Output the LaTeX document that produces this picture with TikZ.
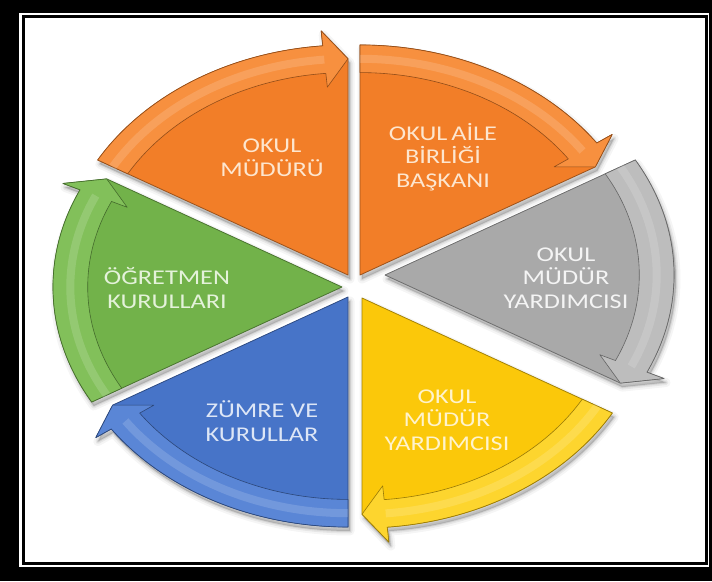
\documentclass[tikz,border=0pt]{standalone}
\usepackage{fontspec}
\setmainfont{Carlito}[FakeStretch=1.25]
\definecolor{orB}{HTML}{F27E28}
\definecolor{orL}{HTML}{F7903F}
\definecolor{orT}{HTML}{FDE6CF}
\definecolor{grB}{HTML}{A9A9A9}
\definecolor{grL}{HTML}{BDBDBD}
\definecolor{grT}{HTML}{F4F4F4}
\definecolor{yeB}{HTML}{FBC80A}
\definecolor{yeL}{HTML}{FDD52E}
\definecolor{yeT}{HTML}{FFF3CC}
\definecolor{blB}{HTML}{4774C8}
\definecolor{blL}{HTML}{5A86D6}
\definecolor{blT}{HTML}{DDE6F6}
\definecolor{gnB}{HTML}{72B24A}
\definecolor{gnL}{HTML}{82C05A}
\definecolor{gnT}{HTML}{E4F2DA}
\newcommand\segshadow[2]{%
  \pgfmathsetmacro\sA{#2+60}%
  \pgfmathsetmacro\sB{#2+5}%
  \begin{scope}[shift={(#1)}]
    \foreach \w/\o in {9/0.04,5/0.06,2/0.08}{%
      \filldraw[black,opacity=\o,line width=\w pt,line join=round,shift={(2,-4)}]
        (0,0) -- (\sA:289 and 230)
        arc[start angle=\sA,end angle=\sB,x radius=289,y radius=230]
        -- (\sB:307.8 and 245) -- (#2:271.7 and 216.2) -- cycle;}
  \end{scope}}
\newcommand\segment[4]{%
  \pgfmathsetmacro\sA{#2+60}%
  \pgfmathsetmacro\sB{#2+5}%
  \begin{scope}[shift={(#1)}]
    \filldraw[fill=#3,draw=#3!65!black,line width=0.8pt,line join=round]
      (0,0) -- (\sA:289 and 230)
      arc[start angle=\sA,end angle=\sB,x radius=289,y radius=230]
      -- (\sB:307.8 and 245) -- (#2:271.7 and 216.2) -- cycle;
    \filldraw[fill=#4,draw=#3!60!black,line width=0.6pt,line join=round]
      (\sA:289 and 230)
      arc[start angle=\sA,end angle=\sB,x radius=289,y radius=230]
      -- (\sB:307.8 and 245) -- (#2:271.7 and 216.2)
      -- (\sB:237 and 188.6) -- (\sB:254.3 and 202.4)
      arc[start angle=\sB,end angle=\sA,x radius=254.3,y radius=202.4] -- cycle;
    \draw[white,opacity=0.15,line width=8pt]
      (\sA:271.7 and 216.2)
      arc[start angle=\sA,end angle=\sB,x radius=271.7,y radius=216.2];
  \end{scope}}
\tikzset{lbl/.style={align=center,inner sep=0pt,font=\fontsize{21}{23.5}\selectfont}}
\begin{document}
\begin{tikzpicture}[x=1pt,y=1pt]
\useasboundingbox (0,0) rectangle (712,581);
\fill[black] (0,0) rectangle (712,581);
\fill[white] (19,14) rectangle (709,568);
\draw[black,line width=3pt] (23,18) rectangle (706,564);
\segshadow{348,306}{90}
\segshadow{360,306}{30}
\segshadow{385,306}{-30}
\segshadow{362,283}{-90}
\segshadow{348,284}{-150}
\segshadow{342,294}{150}
\segment{348,306}{90}{orB}{orL}
\segment{360,306}{30}{orB}{orL}
\segment{385,306}{-30}{grB}{grL}
\segment{362,283}{-90}{yeB}{yeL}
\segment{348,284}{-150}{blB}{blL}
\segment{342,294}{150}{gnB}{gnL}
\node[lbl,text=orT] (mudur) at (272,423) {OKUL\\MÜDÜRÜ};
\node[lbl,text=orT] (aile) at (443,424) {OKUL\hspace{-2pt} AİLE\\BİRLİĞİ\\BAŞKANI};
\node[lbl,text=grT] (yard1) at (566,303) {OKUL\\MÜDÜR\\YARDIMCISI};
\node[lbl,text=yeT] (yard2) at (447,161) {OKUL\\MÜDÜR\\YARDIMCISI};
\node[lbl,text=blT] (zumre) at (262,160) {ZÜMRE VE\\KURULLAR};
\node[lbl,text=gnT] (ogret) at (167,293) {ÖĞRETMEN\\KURULLARI};
\end{tikzpicture}
\end{document}
